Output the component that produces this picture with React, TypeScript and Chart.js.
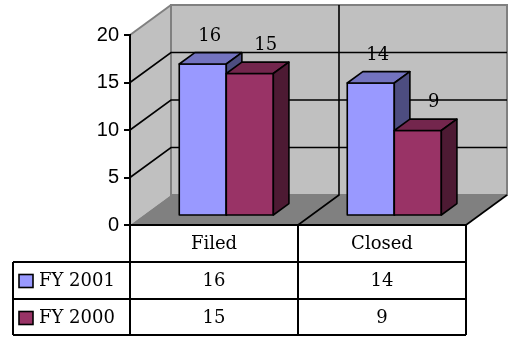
import React, { useEffect, useRef } from "react";
import { Chart, registerables } from "chart.js";

Chart.register(...registerables);

const categories = ["Filed", "Closed"];
const seriesNames = ["FY 2001", "FY 2000"];
const fy2001 = [16, 14];
const fy2000 = [15, 9];
const yTickValues = [0, 5, 10, 15, 20];

const DEPTH_X = 41;
const DEPTH_Y = -30;
const BAR_PLANE = 0.3;
const BAR_DEPTH = 0.38;
const FRONT = ["#9999FF", "#993366"];
const TOP = ["#7373BF", "#73264D"];
const SIDE = ["#4D4D80", "#4D1A33"];
const LABEL_DX = [7, 16];
const LABEL_DY = -28;
const SERIF = "'DejaVu Serif', serif";
const ROW_H = 37;
const LEGEND_LEFT = 13;

const threeD = {
  id: "threeD",
  beforeDraw(chart: any) {
    const { ctx, chartArea: a, scales } = chart;
    const ys = scales.y;
    const xs = scales.x;
    const dx = DEPTH_X, dy = DEPTH_Y;
    ctx.save();
    ctx.fillStyle = "#C0C0C0";
    ctx.beginPath();
    ctx.moveTo(a.left, a.top);
    ctx.lineTo(a.left + dx, a.top + dy);
    ctx.lineTo(a.left + dx, a.bottom + dy);
    ctx.lineTo(a.left, a.bottom);
    ctx.closePath();
    ctx.fill();
    ctx.fillRect(a.left + dx, a.top + dy, a.right - a.left, a.bottom - a.top);
    ctx.fillStyle = "#808080";
    ctx.beginPath();
    ctx.moveTo(a.left, a.bottom);
    ctx.lineTo(a.right, a.bottom);
    ctx.lineTo(a.right + dx, a.bottom + dy);
    ctx.lineTo(a.left + dx, a.bottom + dy);
    ctx.closePath();
    ctx.fill();
    ctx.strokeStyle = "#808080";
    ctx.lineWidth = 2;
    ctx.strokeRect(a.left + dx, a.top + dy, a.right - a.left, a.bottom - a.top);
    ctx.beginPath();
    ctx.moveTo(a.left, a.top);
    ctx.lineTo(a.left + dx, a.top + dy);
    ctx.stroke();
    ctx.strokeStyle = "#000";
    ctx.lineWidth = 1.6;
    const maxV = yTickValues[yTickValues.length - 1];
    for (const v of yTickValues) {
      if (v === 0 || v === maxV) continue;
      const py = ys.getPixelForValue(v);
      ctx.beginPath();
      ctx.moveTo(a.left, py);
      ctx.lineTo(a.left + dx, py + dy);
      ctx.lineTo(a.right + dx, py + dy);
      ctx.stroke();
    }
    for (let i = 0; i < categories.length - 1; i++) {
      const bx = (xs.getPixelForValue(i) + xs.getPixelForValue(i + 1)) / 2;
      ctx.beginPath();
      ctx.moveTo(bx, a.bottom);
      ctx.lineTo(bx + dx, a.bottom + dy);
      ctx.lineTo(bx + dx, a.top + dy);
      ctx.stroke();
    }
    ctx.beginPath();
    ctx.moveTo(a.right, a.bottom);
    ctx.lineTo(a.right + dx, a.bottom + dy);
    ctx.stroke();
    ctx.restore();
  },
  afterDatasetsDraw(chart: any) {
    const { ctx } = chart;
    const ox = DEPTH_X * BAR_PLANE, oy = DEPTH_Y * BAR_PLANE;
    const bx = DEPTH_X * BAR_DEPTH, by = DEPTH_Y * BAR_DEPTH;
    ctx.save();
    ctx.strokeStyle = "#000";
    ctx.lineWidth = 1.6;
    ctx.lineJoin = "round";
    for (let j = 0; j < categories.length; j++) {
      for (let i = 0; i < chart.data.datasets.length; i++) {
        const el = chart.getDatasetMeta(i).data[j];
        const { x, y, width, base } = el.getProps(["x", "y", "width", "base"], true);
        const l = x - width / 2 + ox, r = x + width / 2 + ox;
        const t = y + oy, b = base + oy;
        ctx.fillStyle = FRONT[i];
        ctx.beginPath();
        ctx.rect(l, t, r - l, b - t);
        ctx.fill();
        ctx.stroke();
        ctx.fillStyle = TOP[i];
        ctx.beginPath();
        ctx.moveTo(l, t);
        ctx.lineTo(r, t);
        ctx.lineTo(r + bx, t + by);
        ctx.lineTo(l + bx, t + by);
        ctx.closePath();
        ctx.fill();
        ctx.stroke();
        ctx.fillStyle = SIDE[i];
        ctx.beginPath();
        ctx.moveTo(r, t);
        ctx.lineTo(r + bx, t + by);
        ctx.lineTo(r + bx, b + by);
        ctx.lineTo(r, b);
        ctx.closePath();
        ctx.fill();
        ctx.stroke();
      }
    }
    ctx.fillStyle = "#000";
    ctx.font = `18px ${SERIF}`;
    ctx.textAlign = "center";
    ctx.textBaseline = "middle";
    chart.data.datasets.forEach((ds: any, i: number) => {
      chart.getDatasetMeta(i).data.forEach((el: any, j: number) => {
        const { x, y } = el.getProps(["x", "y"], true);
        ctx.fillText(String(ds.data[j]), x + ox + LABEL_DX[i], y + oy + LABEL_DY);
      });
    });
    ctx.restore();
  },
  afterDraw(chart: any) {
    const { ctx, chartArea: a, scales } = chart;
    const xs = scales.x;
    const y0 = a.bottom;
    ctx.save();
    ctx.strokeStyle = "#000";
    ctx.lineWidth = 2;
    const cols: number[] = [a.left];
    for (let i = 0; i < categories.length - 1; i++) {
      cols.push((xs.getPixelForValue(i) + xs.getPixelForValue(i + 1)) / 2);
    }
    cols.push(a.right);
    const nRows = seriesNames.length;
    const bottom = y0 + ROW_H * (nRows + 1) - 1;
    ctx.beginPath();
    ctx.moveTo(a.left, y0);
    ctx.lineTo(a.right, y0);
    for (let r = 1; r <= nRows + 1; r++) {
      const ry = r === nRows + 1 ? bottom : y0 + ROW_H * r;
      ctx.moveTo(LEGEND_LEFT, ry);
      ctx.lineTo(a.right, ry);
    }
    for (const cx of cols) {
      ctx.moveTo(cx, y0);
      ctx.lineTo(cx, bottom);
    }
    ctx.moveTo(LEGEND_LEFT, y0 + ROW_H);
    ctx.lineTo(LEGEND_LEFT, bottom);
    ctx.stroke();

    ctx.fillStyle = "#000";
    ctx.font = `18px ${SERIF}`;
    ctx.textBaseline = "middle";
    ctx.textAlign = "center";
    categories.forEach((c, j) => {
      const cx = (cols[j] + cols[j + 1]) / 2;
      ctx.fillText(c, cx, y0 + ROW_H / 2 + 1);
    });
    chart.data.datasets.forEach((ds: any, i: number) => {
      const cy = y0 + ROW_H * (i + 1) + ROW_H / 2 + 1;
      ds.data.forEach((v: number, j: number) => {
        const cx = (cols[j] + cols[j + 1]) / 2;
        ctx.fillStyle = "#000";
        ctx.textAlign = "center";
        ctx.fillText(String(v), cx, cy);
      });
      ctx.fillStyle = FRONT[i];
      ctx.fillRect(LEGEND_LEFT + 6, cy - 7, 14, 13);
      ctx.lineWidth = 1.6;
      ctx.strokeRect(LEGEND_LEFT + 6, cy - 7, 14, 13);
      ctx.fillStyle = "#000";
      ctx.textAlign = "left";
      ctx.fillText(seriesNames[i], LEGEND_LEFT + 26, cy);
    });
    ctx.restore();
  },
};

export default function App() {
  const ref = useRef<HTMLCanvasElement>(null);
  useEffect(() => {
    document.body.style.margin = "0";
    if (!ref.current) return;
    const chart = new Chart(ref.current, {
      type: "bar",
      data: {
        labels: categories,
        datasets: [
          { label: seriesNames[0], data: fy2001, backgroundColor: "rgba(0,0,0,0)", borderWidth: 0 },
          { label: seriesNames[1], data: fy2000, backgroundColor: "rgba(0,0,0,0)", borderWidth: 0 },
        ],
      },
      options: {
        animation: false,
        responsive: false,
        devicePixelRatio: 1,
        events: [],
        layout: { padding: { left: 0, right: 44, top: 35, bottom: 112 } },
        datasets: { bar: { categoryPercentage: 0.56, barPercentage: 1.0 } },
        plugins: { legend: { display: false }, tooltip: { enabled: false } },
        scales: {
          x: { display: false },
          y: {
            min: 0,
            max: 20,
            ticks: {
              stepSize: 5,
              color: "#000",
              font: { family: "'Liberation Sans', Arial, sans-serif", size: 20 },
              padding: 5,
            },
            grid: { drawOnChartArea: false, drawTicks: true, tickLength: 6, color: "#000", lineWidth: 2 },
            border: { display: true, color: "#000", width: 2 },
            afterFit(s: any) {
              s.width = 130;
            },
          },
        },
      },
      plugins: [threeD],
    });
    return () => chart.destroy();
  }, []);
  return <canvas ref={ref} width={510} height={337} style={{ display: "block" }} />;
}
